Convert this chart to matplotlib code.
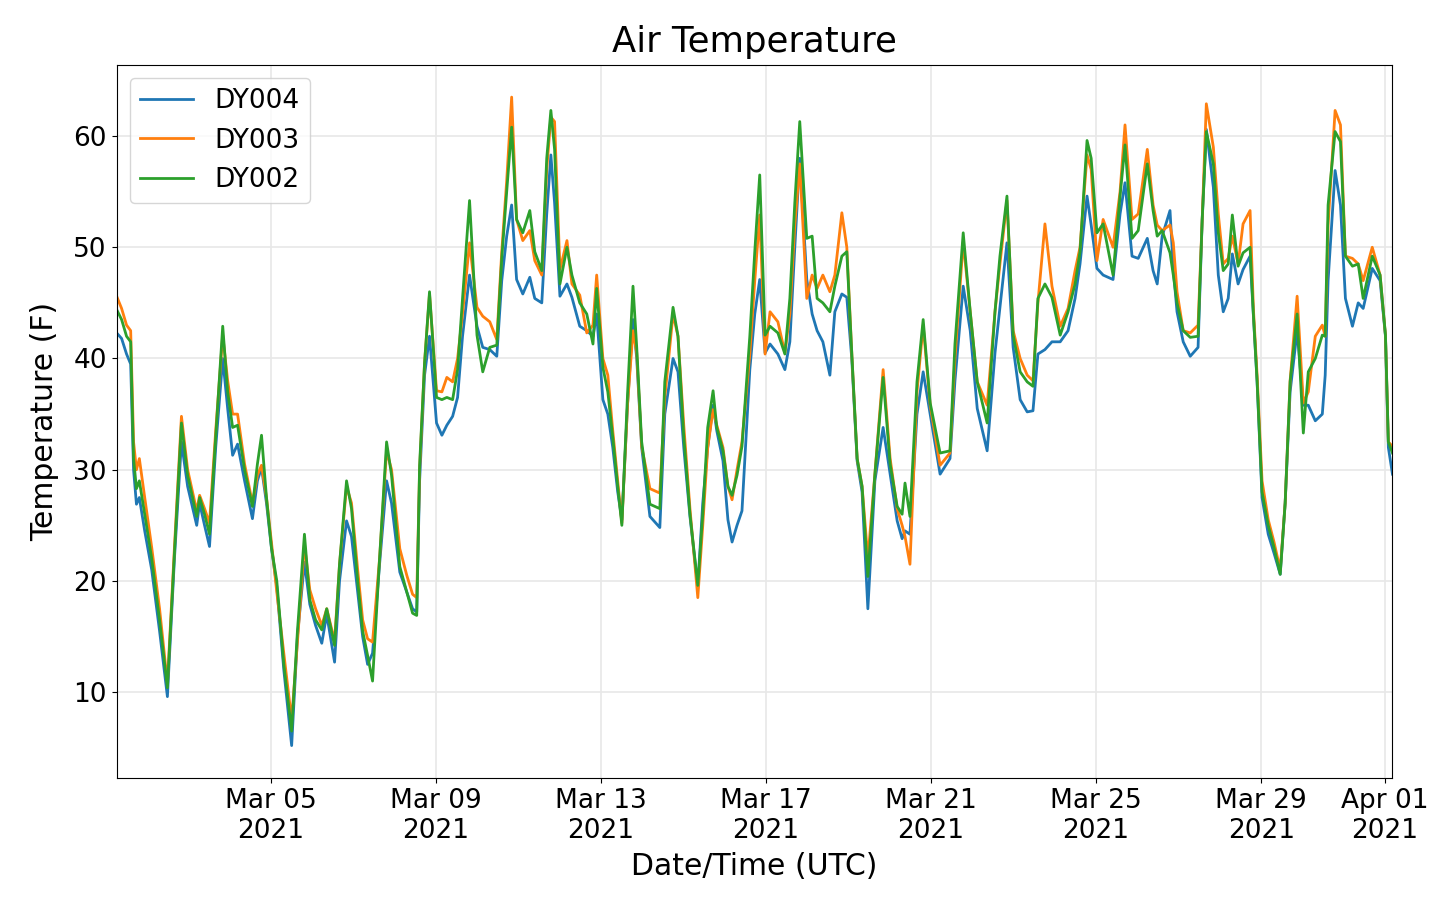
#!/usr/bin/env python3
"""
Air Temperature - DY004 / DY003 / DY002, March 2021
"""
import matplotlib
matplotlib.use('Agg')
import matplotlib.pyplot as plt
import matplotlib.dates as mdates
import numpy as np
import pandas as pd

# 时间: 距 2021-03-01 00:00 UTC 的天数 (从图中读取的转折点)
day_offsets = [
    0.27, 0.39, 0.51, 0.61, 0.68, 0.75, 0.82, 0.95, 1.12, 1.31,
    1.50, 1.67, 1.84, 1.99, 2.21, 2.28, 2.40, 2.52, 2.67, 2.84,
    2.96, 3.08, 3.20, 3.37, 3.56, 3.68, 3.78, 3.90, 4.02, 4.15,
    4.32, 4.51, 4.65, 4.82, 4.95, 5.09, 5.24, 5.36, 5.55, 5.67,
    5.84, 5.96, 6.11, 6.23, 6.35, 6.47, 6.64, 6.81, 6.93, 7.13,
    7.30, 7.44, 7.54, 7.61, 7.73, 7.85, 8.02, 8.15, 8.27, 8.41,
    8.53, 8.65, 8.82, 9.00, 9.14, 9.31, 9.48, 9.60, 9.72, 9.84,
    9.96, 10.11, 10.28, 10.40, 10.57, 10.69, 10.79, 10.88, 11.01, 11.18,
    11.30, 11.49, 11.66, 11.81, 11.90, 12.05, 12.17, 12.29, 12.41, 12.51,
    12.65, 12.78, 12.87, 12.99, 13.19, 13.43, 13.55, 13.75, 13.87, 14.01,
    14.16, 14.35, 14.47, 14.59, 14.72, 14.81, 14.96, 15.08, 15.18, 15.30,
    15.42, 15.61, 15.73, 15.85, 15.98, 16.10, 16.29, 16.46, 16.58, 16.70,
    16.82, 16.99, 17.12, 17.24, 17.38, 17.55, 17.67, 17.84, 17.96, 18.08,
    18.21, 18.33, 18.47, 18.64, 18.84, 19.01, 19.18, 19.30, 19.37, 19.49,
    19.66, 19.81, 19.98, 20.22, 20.46, 20.58, 20.78, 20.95, 21.12, 21.36,
    21.55, 21.67, 21.84, 21.99, 22.16, 22.33, 22.47, 22.59, 22.76, 22.93,
    23.13, 23.32, 23.49, 23.61, 23.78, 23.88, 24.02, 24.17, 24.41, 24.58,
    24.70, 24.87, 25.02, 25.24, 25.38, 25.48, 25.60, 25.79, 25.87, 25.96,
    26.11, 26.28, 26.47, 26.57, 26.67, 26.84, 26.96, 27.08, 27.20, 27.30,
    27.44, 27.56, 27.73, 27.81, 27.90, 28.02, 28.17, 28.31, 28.46, 28.58,
    28.70, 28.87, 29.02, 29.14, 29.31, 29.48, 29.55, 29.62, 29.79, 29.92,
    30.04, 30.21, 30.35, 30.47, 30.69, 30.88, 31.01, 31.08, 31.18,
]

# 气温 (F)
temp_dy004 = [
    42.3, 41.8, 40.4, 39.5, 30.0, 26.9, 27.5, 24.5, 21.0, 15.5,
    9.6, 22.0, 32.5, 28.5, 25.0, 27.0, 25.0, 23.1, 32.0, 40.0,
    35.5, 31.3, 32.3, 29.0, 25.6, 29.0, 30.2, 27.0, 23.0, 19.5,
    12.0, 5.2, 15.0, 21.7, 17.9, 16.0, 14.4, 17.0, 12.7, 20.0,
    25.4, 24.0, 19.0, 15.0, 12.5, 13.5, 21.5, 29.0, 27.0, 20.8,
    19.0, 17.5, 17.2, 29.0, 38.5, 42.0, 34.2, 33.1, 34.0, 34.8,
    36.5, 42.0, 47.5, 42.9, 41.0, 40.8, 40.2, 47.0, 51.0, 53.8,
    47.1, 45.8, 47.3, 45.4, 45.0, 53.0, 58.3, 54.0, 45.6, 46.7,
    45.5, 42.9, 42.5, 42.0, 44.0, 36.3, 35.0, 32.0, 28.0, 25.5,
    36.0, 43.5, 40.0, 32.0, 25.8, 24.8, 35.0, 40.0, 38.8, 32.0,
    25.8, 19.5, 27.0, 32.0, 35.8, 33.5, 30.8, 25.5, 23.5, 25.0,
    26.3, 39.0, 44.0, 47.1, 40.5, 41.3, 40.4, 39.0, 41.5, 50.0,
    58.0, 47.1, 44.0, 42.5, 41.5, 38.5, 44.2, 45.8, 45.5, 40.0,
    30.8, 28.0, 17.5, 29.0, 33.8, 29.6, 25.4, 23.8, 24.5, 24.2,
    35.0, 38.8, 35.0, 29.6, 31.0, 38.0, 46.5, 42.5, 35.5, 31.7,
    40.5, 44.6, 50.4, 41.0, 36.3, 35.2, 35.3, 40.4, 40.8, 41.5,
    41.5, 42.5, 45.4, 48.5, 54.6, 52.0, 48.1, 47.5, 47.1, 53.0,
    55.8, 49.2, 49.0, 50.8, 47.9, 46.7, 51.0, 53.3, 48.0, 44.2,
    41.5, 40.2, 41.0, 52.5, 60.6, 55.4, 47.5, 44.2, 45.4, 49.4,
    46.7, 48.0, 49.2, 43.8, 37.9, 27.5, 24.2, 22.5, 20.6, 27.0,
    37.0, 42.5, 35.8, 35.8, 34.4, 35.0, 38.5, 47.0, 56.9, 53.8,
    45.4, 42.9, 45.0, 44.5, 48.1, 47.0, 42.0, 32.0, 29.6,
]

temp_dy003 = [
    45.6, 44.5, 43.0, 42.5, 32.5, 30.0, 31.0, 27.5, 23.0, 17.5,
    10.8, 23.0, 34.8, 30.0, 26.3, 27.7, 26.5, 25.2, 33.5, 42.1,
    38.0, 35.0, 35.0, 30.5, 27.0, 29.5, 30.4, 27.5, 23.5, 19.0,
    13.5, 7.5, 14.5, 23.3, 19.2, 17.5, 16.0, 17.5, 14.6, 21.5,
    28.5, 27.0, 21.0, 16.5, 14.8, 14.5, 22.0, 31.7, 30.0, 22.9,
    20.5, 18.8, 18.5, 30.0, 39.6, 45.8, 37.1, 37.0, 38.3, 37.9,
    40.0, 44.0, 50.4, 44.6, 43.8, 43.3, 41.7, 49.6, 56.0, 63.5,
    52.5, 50.6, 51.5, 48.8, 47.5, 57.0, 61.7, 61.3, 48.0, 50.6,
    46.7, 45.7, 42.3, 43.0, 47.5, 40.0, 38.5, 33.5, 29.0, 25.2,
    36.0, 42.5, 40.5, 32.1, 28.3, 27.9, 36.5, 44.0, 42.0, 34.0,
    26.5, 18.5, 25.0, 32.0, 35.4, 34.0, 32.0, 28.5, 27.3, 30.0,
    32.5, 40.4, 47.0, 52.9, 40.4, 44.2, 43.3, 40.5, 44.0, 52.0,
    57.5, 45.4, 47.5, 46.3, 47.5, 46.0, 47.5, 53.1, 50.0, 40.5,
    31.0, 28.5, 22.0, 29.6, 39.0, 31.0, 26.5, 25.0, 24.0, 21.5,
    37.0, 43.0, 35.8, 30.4, 31.5, 40.0, 50.5, 44.2, 37.9, 35.8,
    44.2, 48.5, 54.2, 42.5, 40.0, 38.5, 38.0, 45.0, 52.1, 46.5,
    42.9, 44.5, 47.9, 50.0, 58.3, 57.0, 48.8, 52.5, 50.0, 55.0,
    61.0, 52.5, 53.0, 58.8, 53.8, 52.0, 51.5, 52.0, 50.4, 46.0,
    42.5, 42.3, 43.0, 52.5, 62.9, 59.0, 53.0, 48.5, 49.0, 51.0,
    48.5, 52.1, 53.3, 44.5, 38.5, 29.0, 25.5, 23.5, 21.0, 27.0,
    38.0, 45.6, 36.0, 37.0, 42.0, 43.0, 42.0, 52.0, 62.3, 61.0,
    49.2, 49.0, 48.5, 47.0, 50.0, 47.5, 42.1, 32.5, 32.1,
]

temp_dy002 = [
    44.4, 43.5, 42.0, 41.5, 31.0, 28.3, 29.0, 26.0, 22.0, 16.5,
    10.4, 22.5, 34.2, 29.5, 25.8, 27.5, 26.0, 24.2, 33.0, 42.9,
    37.0, 33.8, 34.0, 30.0, 26.7, 30.5, 33.1, 27.5, 23.0, 20.0,
    12.5, 6.5, 15.5, 24.2, 18.3, 16.5, 15.6, 17.5, 14.2, 21.5,
    29.0, 26.5, 20.0, 15.5, 13.3, 11.0, 22.0, 32.5, 29.5, 21.3,
    19.0, 17.1, 16.9, 30.4, 39.6, 46.0, 36.5, 36.3, 36.5, 36.3,
    39.0, 45.4, 54.2, 42.1, 38.8, 41.0, 41.2, 49.0, 55.0, 60.8,
    52.5, 51.3, 53.3, 49.6, 47.9, 58.0, 62.3, 58.8, 46.7, 50.0,
    47.5, 45.0, 44.0, 41.3, 46.3, 39.2, 37.0, 32.9, 28.5, 25.0,
    37.0, 46.5, 41.0, 32.5, 26.9, 26.5, 37.9, 44.6, 42.0, 33.0,
    26.0, 19.6, 26.0, 33.8, 37.1, 33.8, 31.7, 28.5, 27.7, 29.5,
    32.1, 42.0, 49.6, 56.5, 42.1, 42.9, 42.3, 40.4, 45.4, 54.0,
    61.3, 50.8, 51.0, 45.4, 45.0, 44.2, 46.5, 49.2, 49.6, 40.5,
    31.0, 28.5, 20.4, 29.6, 38.3, 30.5, 26.7, 26.0, 28.8, 25.8,
    37.9, 43.5, 36.0, 31.5, 31.7, 41.3, 51.3, 44.2, 37.9, 34.2,
    44.2, 49.2, 54.6, 42.1, 38.8, 37.9, 37.5, 45.4, 46.7, 45.5,
    42.1, 44.2, 46.7, 49.6, 59.6, 58.0, 51.3, 52.1, 47.5, 54.6,
    59.2, 50.8, 51.5, 57.5, 53.3, 51.0, 51.5, 49.5, 47.5, 45.0,
    42.5, 41.9, 42.0, 52.5, 60.4, 57.5, 51.3, 47.9, 48.5, 52.9,
    48.3, 49.5, 50.0, 44.0, 38.0, 28.0, 25.0, 23.0, 20.6, 27.0,
    37.9, 44.0, 33.3, 38.8, 40.0, 42.1, 42.0, 53.8, 60.4, 59.5,
    49.2, 48.3, 48.5, 45.4, 49.2, 47.5, 42.1, 32.5, 31.5,
]

station_names = ['DY004', 'DY003', 'DY002']

times = pd.Timestamp('2021-03-01') + pd.to_timedelta(np.array(day_offsets), unit='D')

fig = plt.figure(figsize=(14.4, 9.11), dpi=100)
ax = fig.add_subplot(111)
fig.subplots_adjust(left=0.081, right=0.967, top=0.929, bottom=0.146)

for name, vals in zip(station_names, [temp_dy004, temp_dy003, temp_dy002]):
    ax.plot(times, vals, linewidth=2.0, label=name)

ax.set_xlim(times[0], times[-1])
ax.xaxis.set_major_locator(mdates.DayLocator(bymonthday=[1, 5, 9, 13, 17, 21, 25, 29]))
ax.xaxis.set_major_formatter(mdates.DateFormatter('%b %d\n%Y'))

ax.grid(True, color='#e8e8e8', linewidth=1.2)
ax.tick_params(labelsize=19)
ax.set_title('Air Temperature', fontsize=25.5, pad=9)
ax.set_xlabel('Date/Time (UTC)', fontsize=21.5, labelpad=6)
ax.set_ylabel('Temperature (F)', fontsize=21.5, labelpad=10)
ax.legend(loc='upper left', fontsize=19)

fig.savefig('out.png', dpi=100)
plt.close()
